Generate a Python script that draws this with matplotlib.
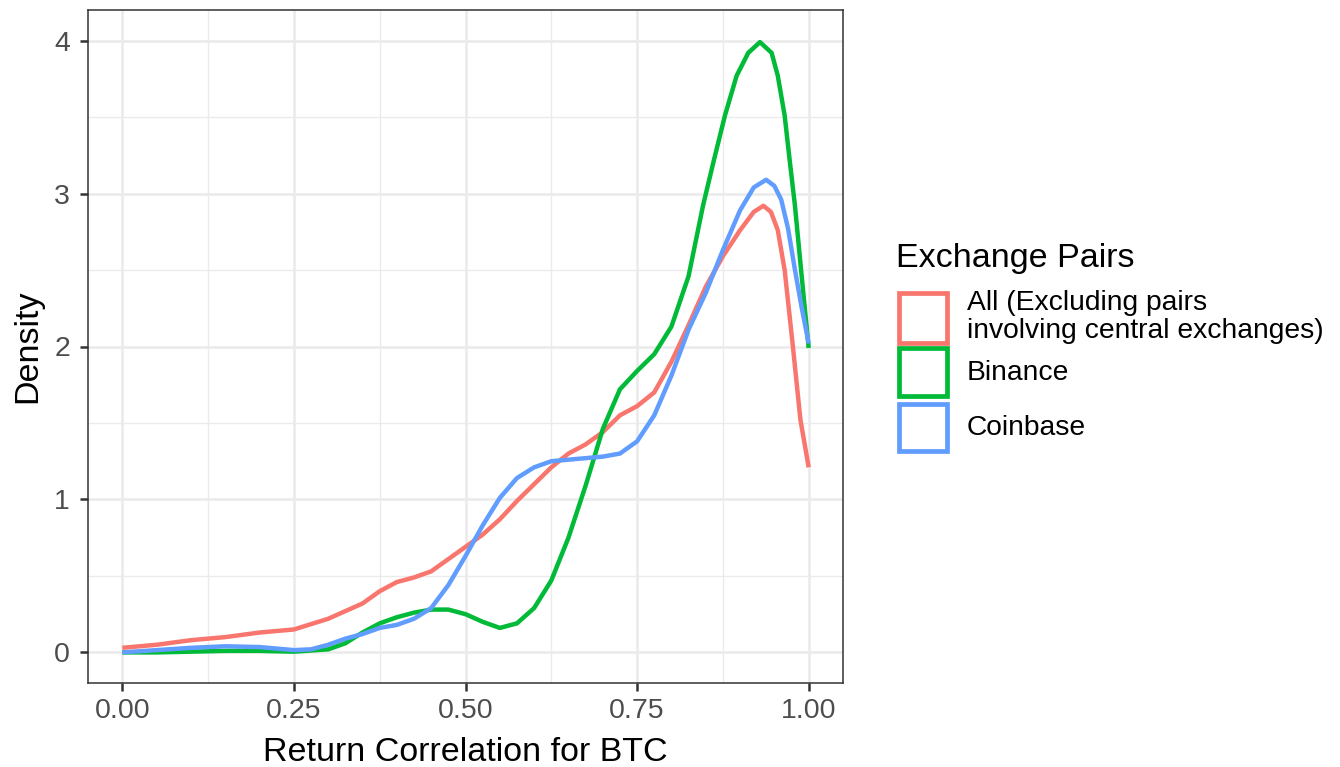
import numpy as np
import matplotlib.pyplot as plt
from matplotlib.patches import Rectangle

plt.rcParams['font.family'] = ['Liberation Sans', 'DejaVu Sans']

# density curves (x = return correlation, y = density)
x_all = [0.0, 0.05, 0.10, 0.15, 0.20, 0.25, 0.30, 0.35, 0.375, 0.40, 0.425, 0.45, 0.475,
         0.50, 0.525, 0.55, 0.575, 0.60, 0.625, 0.65, 0.675, 0.70, 0.725, 0.75, 0.775,
         0.80, 0.825, 0.85, 0.875, 0.90, 0.92, 0.934, 0.945, 0.955, 0.965, 0.977, 0.988, 1.0]
y_all = [0.03, 0.05, 0.08, 0.10, 0.13, 0.15, 0.22, 0.32, 0.40, 0.46, 0.49, 0.53, 0.61,
         0.69, 0.77, 0.87, 0.99, 1.10, 1.21, 1.30, 1.36, 1.44, 1.55, 1.61, 1.70,
         1.90, 2.14, 2.39, 2.59, 2.76, 2.88, 2.92, 2.88, 2.76, 2.50, 2.00, 1.52, 1.21]

x_bin = [0.0, 0.05, 0.10, 0.15, 0.20, 0.25, 0.30, 0.325, 0.35, 0.375, 0.40, 0.425, 0.45,
         0.475, 0.50, 0.525, 0.55, 0.575, 0.60, 0.625, 0.65, 0.675, 0.70, 0.725, 0.75,
         0.775, 0.80, 0.825, 0.846, 0.862, 0.878, 0.895, 0.912, 0.929, 0.946, 0.955,
         0.965, 0.972, 0.98, 0.99, 1.0]
y_bin = [0.0, 0.0, 0.005, 0.01, 0.01, 0.005, 0.02, 0.06, 0.13, 0.19, 0.23, 0.26, 0.28,
         0.28, 0.25, 0.20, 0.16, 0.19, 0.29, 0.47, 0.75, 1.09, 1.46, 1.72, 1.84,
         1.95, 2.13, 2.46, 2.92, 3.22, 3.51, 3.77, 3.92, 3.99, 3.92, 3.77,
         3.51, 3.23, 2.92, 2.45, 1.99]

x_coin = [0.0, 0.05, 0.10, 0.15, 0.20, 0.25, 0.275, 0.30, 0.325, 0.35, 0.375, 0.40, 0.425,
          0.45, 0.475, 0.50, 0.525, 0.55, 0.575, 0.60, 0.625, 0.65, 0.675, 0.70, 0.725,
          0.75, 0.775, 0.80, 0.825, 0.85, 0.875, 0.90, 0.92, 0.938, 0.95, 0.96, 0.97,
          0.98, 0.99, 1.0]
y_coin = [0.0, 0.015, 0.03, 0.04, 0.035, 0.015, 0.02, 0.05, 0.09, 0.12, 0.16, 0.18, 0.22,
          0.29, 0.44, 0.63, 0.83, 1.01, 1.14, 1.21, 1.25, 1.26, 1.27, 1.28, 1.30,
          1.38, 1.55, 1.81, 2.11, 2.35, 2.63, 2.89, 3.04, 3.09, 3.05, 2.96, 2.77,
          2.50, 2.25, 2.02]

labels = ['All (Excluding pairs\ninvolving central exchanges)', 'Binance', 'Coinbase']
colors = ['#F8766D', '#00BA38', '#619CFF']

W, H = 1340, 767
fig = plt.figure(figsize=(W / 100, H / 100), dpi=100)
ax = fig.add_axes([88 / W, 1 - 683 / H, (843 - 88) / W, (683 - 10) / H])

for xs, ys, c in zip([x_all, x_bin, x_coin], [y_all, y_bin, y_coin], colors):
    ax.plot(xs, ys, color=c, lw=3.2, solid_capstyle='butt', solid_joinstyle='round', zorder=3)

ax.set_xlim(-0.05, 1.05)
ax.set_ylim(-0.2, 4.2)
ax.set_xticks([0, 0.25, 0.5, 0.75, 1.0])
ax.set_xticklabels(['0.00', '0.25', '0.50', '0.75', '1.00'])
ax.set_yticks([0, 1, 2, 3, 4])
ax.set_xticks([0.125, 0.375, 0.625, 0.875], minor=True)
ax.set_yticks([0.5, 1.5, 2.5, 3.5], minor=True)
ax.grid(which='major', color='#EBEBEB', lw=1.9, zorder=0)
ax.grid(which='minor', color='#EBEBEB', lw=0.95, zorder=0)
ax.set_axisbelow(True)
ax.tick_params(which='major', length=5.5, width=1.8, color='#333333', labelsize=20.5,
               labelcolor='#4D4D4D')
ax.tick_params(axis='x', which='major', pad=5.5)
ax.tick_params(axis='y', which='major', pad=7.5)
ax.tick_params(which='minor', length=0)
for s in ax.spines.values():
    s.set_color('#333333')
    s.set_linewidth(1.1)
ax.set_xlabel('Return Correlation for BTC', fontsize=24.5, labelpad=9)
ax.set_ylabel('Density', fontsize=24.5, labelpad=8)

# legend drawn by hand in pixel coordinates
def fx(px):
    return px / W

def fy(py):
    return 1 - py / H

fig.text(fx(896), fy(259), 'Exchange Pairs', fontsize=24.5, va='center', ha='left')
key_tops = [292.5, 348.5, 403.5]
key_h = [50, 48, 47]
text_y = [317.5, 373, 428]
for top, h, ty, c, lab in zip(key_tops, key_h, text_y, colors, labels):
    fig.patches.append(Rectangle((fx(898.5), fy(top + h)), fx(48), h / H, transform=fig.transFigure,
                                 facecolor='white', edgecolor=c, lw=3.4))
    fig.text(fx(967), fy(ty), lab, fontsize=20.3, va='center', ha='left', linespacing=1.1)

fig.savefig('out.png', dpi=100)
